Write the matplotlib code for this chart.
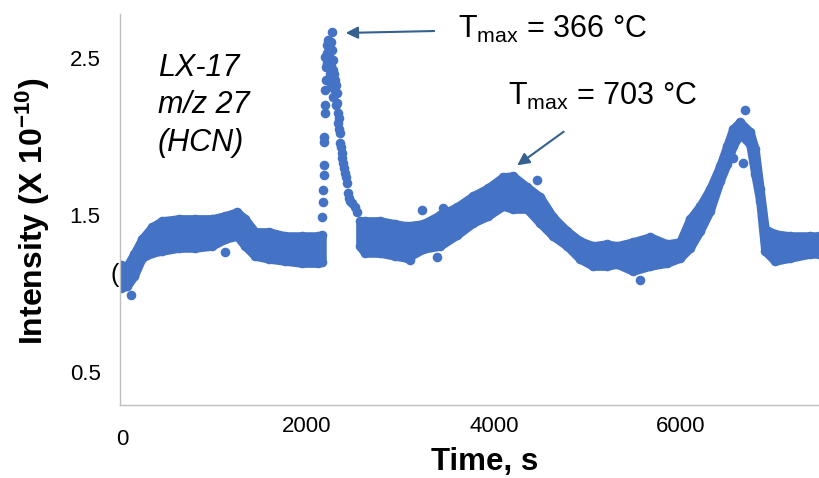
import matplotlib
matplotlib.use("Agg")
import matplotlib.pyplot as plt

plt.rcParams['font.family'] = ['Liberation Sans', 'DejaVu Sans']
plt.rcParams['mathtext.fontset'] = 'custom'
plt.rcParams['mathtext.rm'] = 'Liberation Sans'
plt.rcParams['mathtext.it'] = 'Liberation Sans:italic'
plt.rcParams['mathtext.bf'] = 'Liberation Sans:bold'

# band of the noisy signal before the 366 C spike (time s, lower / upper edge)
pre_t = [11, 75, 150, 235, 342, 449, 631, 803, 984, 1124, 1252, 1338, 1445,
         1594, 1766, 1947, 2119, 2161]
pre_lo = [1.035, 1.048, 1.111, 1.226, 1.258, 1.271, 1.290, 1.290, 1.303, 1.347,
          1.366, 1.303, 1.239, 1.220, 1.207, 1.194, 1.194, 1.200]
pre_hi = [1.180, 1.175, 1.252, 1.347, 1.424, 1.462, 1.475, 1.475, 1.475, 1.494,
          1.519, 1.475, 1.392, 1.392, 1.366, 1.366, 1.366, 1.370]

# band after the spike
post_t = [2568, 2622, 2782, 2943, 3071, 3242, 3424, 3606, 3777, 3938,
          4098, 4205, 4355, 4494, 4633, 4783, 4922, 5061, 5211, 5318,
          5489, 5671, 5853, 5992, 6099, 6206, 6313, 6420, 6495, 6559,
          6634, 6741, 6795, 6848, 6902, 7009, 7169, 7383, 7479]
post_lo = [1.300, 1.258, 1.258, 1.239, 1.226, 1.283, 1.303, 1.373, 1.449, 1.494,
           1.557, 1.538, 1.538, 1.449, 1.366, 1.303, 1.220, 1.175, 1.175, 1.188,
           1.143, 1.175, 1.194, 1.226, 1.290, 1.398, 1.526, 1.717, 1.825, 1.939,
           2.016, 1.952, 1.761, 1.589, 1.271, 1.207, 1.226, 1.252, 1.252]
post_hi = [1.460, 1.462, 1.462, 1.443, 1.430, 1.443, 1.500, 1.551, 1.621, 1.672,
           1.742, 1.748, 1.678, 1.615, 1.487, 1.398, 1.334, 1.303, 1.315, 1.303,
           1.328, 1.360, 1.315, 1.328, 1.475, 1.557, 1.666, 1.812, 1.939, 2.048,
           2.092, 2.029, 1.920, 1.666, 1.411, 1.379, 1.366, 1.366, 1.366]

# individual points of the HCN spike
spike_t = [2165, 2172, 2175, 2178, 2180, 2183, 2186, 2190, 2190, 2194,
           2194, 2204, 2215, 2226, 2268, 2215, 2268, 2279, 2279, 2300,
           2300, 2322, 2322, 2333, 2333, 2354, 2354, 2375, 2386, 2408,
           2429, 2440, 2482, 2536, 2290, 2311, 2340, 2345, 2365, 2380,
           2397, 2418, 2450, 2460, 2510, 2230, 2240, 2250, 2258, 2215,
           2247, 2236, 2258, 2247, 2268, 2290, 2258, 2279, 2204, 2311]
spike_i = [1.487, 1.583, 1.659, 1.755, 1.818, 1.965, 1.997, 2.150, 2.201, 2.296,
           2.506, 2.443, 2.532, 2.615, 2.666, 2.468, 2.551, 2.487, 2.424, 2.360,
           2.315, 2.277, 2.213, 2.150, 2.086, 2.022, 1.959, 1.895, 1.831, 1.768,
           1.704, 1.640, 1.576, 1.519, 2.400, 2.330, 2.120, 2.050, 1.930, 1.860,
           1.800, 1.740, 1.610, 1.590, 1.550, 2.580, 2.560, 2.500, 2.600, 2.580,
           2.550, 2.490, 2.450, 2.400, 2.380, 2.300, 2.330, 2.250, 2.360, 2.200]

# stray points outside the band
out_t = [118, 1124, 3103, 3231, 3392, 3456, 4462, 5564, 6559, 6666, 6688]
out_i = [0.990, 1.264, 1.213, 1.532, 1.232, 1.545, 1.723, 1.086, 1.863, 1.831, 2.169]

yticks = [0.5, 1.5, 2.5]
xticks = [2000, 4000, 6000]

blue = '#4472c4'
arrow_c = '#35608f'
ms = 48

fig = plt.figure(figsize=(8.19, 4.78), dpi=100)
ax = fig.add_axes([120 / 819, 1 - 405 / 478, 699 / 819, 391 / 478])

for t, lo, hi in [(pre_t, pre_lo, pre_hi), (post_t, post_lo, post_hi)]:
    ax.fill_between(t, lo, hi, facecolor=blue, edgecolor=blue, linewidth=6.2, zorder=2)
    ax.scatter(t, lo, s=ms, color=blue, linewidths=0, zorder=2)
    ax.scatter(t, hi, s=ms, color=blue, linewidths=0, zorder=2)
ax.scatter(spike_t, spike_i, s=ms, color=blue, linewidths=0, zorder=2)
ax.scatter(out_t, out_i, s=ms, color=blue, linewidths=0, zorder=2)

ax.set_xlim(0, 7480)
ax.set_ylim(0.29, 2.78)
ax.set_yticks(yticks)
ax.set_yticklabels([f'{v:.1f}' for v in yticks])
ax.set_xticks(xticks)
ax.set_xticklabels([str(v) for v in xticks])
ax.tick_params(axis='y', length=0, pad=14, labelsize=16)
ax.tick_params(axis='x', length=0, pad=8, labelsize=16)
ax.annotate('0', xy=(0, 0), xycoords=('data', 'axes fraction'), xytext=(1.5, -17),
            textcoords='offset points', ha='center', va='top', fontsize=16)

for side in ['top', 'right']:
    ax.spines[side].set_visible(False)
for side in ['left', 'bottom']:
    ax.spines[side].set_color('#bfbfbf')
    ax.spines[side].set_linewidth(1.0)

ax.set_xlabel('Time, s', fontsize=22.5, fontweight='bold')
ax.xaxis.set_label_coords((485 - 120) / 699, -(462 - 405) / 391)
ax.xaxis.label.set_va('center')
ax.set_ylabel(r'Intensity (X 10$^{\mathbf{-10}}$)', fontsize=23, fontweight='bold')
ax.yaxis.set_label_coords((33 - 120) / 699, (405 - 211) / 391)
ax.yaxis.label.set_va('center')

ax.text(0.054, 0.9, 'LX-17\nm/z 27\n(HCN)', transform=ax.transAxes, fontsize=22,
        style='italic', va='top', ha='left', linespacing=1.32)
ax.text(-0.007, 0.332, '(', transform=ax.transAxes, fontsize=18, ha='center',
        va='center', clip_on=False, zorder=1)

ax.annotate('', xy=(2386, 2.659), xytext=(3392, 2.672),
            arrowprops=dict(arrowstyle='-|>', color=arrow_c, lw=1.5, mutation_scale=18))
ax.text(3617, 2.627, r'T$_{\mathrm{max}}$ = 366 °C', fontsize=22, va='baseline', ha='left')
ax.annotate('', xy=(4227, 1.806), xytext=(4772, 2.041),
            arrowprops=dict(arrowstyle='-|>', color=arrow_c, lw=1.5, mutation_scale=18))
ax.text(4152, 2.201, r'T$_{\mathrm{max}}$ = 703 °C', fontsize=22, va='baseline', ha='left')

fig.savefig('out.png', dpi=100)
